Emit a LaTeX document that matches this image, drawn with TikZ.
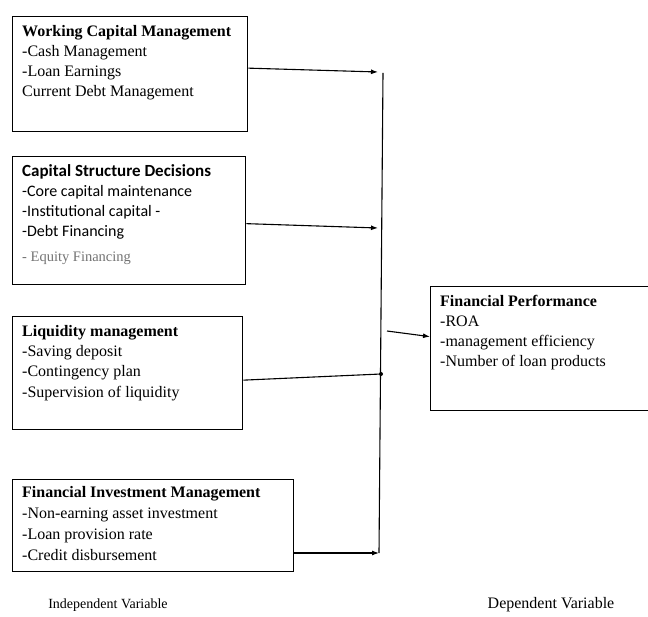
\documentclass[tikz,border=0pt]{standalone}
\usepackage{fontspec}
\setmainfont{Liberation Serif}
\newfontfamily\calib{Carlito}
\usetikzlibrary{arrows.meta}
\begin{document}
\begin{tikzpicture}[x=1pt,y=-1pt,
  box/.style={draw, line width=1.3pt, inner sep=0pt, anchor=north west},
  txt/.style={anchor=north west, inner sep=0pt, align=left, font=\fontsize{16}{20}\selectfont},
  lbl/.style={anchor=base, inner sep=0pt},
  con/.style={line width=1.1pt},
  arr/.style={con, -{Latex[length=7pt,width=5pt]}}]
\useasboundingbox (0,0) rectangle (648,617);
% boxes
\node[box, minimum width=235pt, minimum height=115pt] (b1) at (12,16) {};
\node[box, minimum width=233pt, minimum height=128pt] (b2) at (12,156) {};
\node[box, minimum width=230pt, minimum height=113pt] (b3) at (12,316) {};
\node[box, minimum width=281pt, minimum height=92pt] (b4) at (12,479) {};
\node[box, minimum width=240pt, minimum height=124pt] (fp) at (430,286) {};
% texts
\node[txt] (t1) at (22,25) {\textbf{Working Capital Management}\\-Cash Management\\-Loan Earnings\\Current Debt Management};
\node[txt, font=\calib\fontsize{16}{20}\selectfont] (t2) at (22,164) {{\fontsize{17}{20}\selectfont\textbf{Capital Structure Decisions}}\\-Core capital maintenance\\-Institutional capital -\\-Debt Financing\\[5pt]{\rmfamily\fontsize{14.5}{15}\selectfont\color{black!55}- Equity Financing}};
\node[txt] (t3) at (22,325) {\textbf{Liquidity management}\\-Saving deposit\\-Contingency plan\\[1pt]-Supervision of liquidity};
\node[txt, font=\fontsize{16}{21}\selectfont] (t4) at (22,486) {\textbf{Financial Investment Management}\\-Non-earning asset investment\\-Loan provision rate\\-Credit disbursement};
\node[txt] (t5) at (440,295) {\textbf{Financial Performance}\\-ROA\\-management efficiency\\-Number of loan products};
% labels
\node[lbl, font=\fontsize{14}{16}\selectfont] (l1) at (108,608) {Independent Variable};
\node[lbl, font=\fontsize{16}{18}\selectfont] (l2) at (551,608) {Dependent Variable};
% connectors
\coordinate (j1) at (378,72);
\coordinate (j2) at (378,228);
\coordinate (j3) at (381,374);
\coordinate (j4) at (379,553);
\coordinate (v1) at (383,73);
\coordinate (v4) at (379,553);
\coordinate (s1) at (387,331);
\draw[con] (v1) -- (v4);
\draw[arr] ([yshift=6pt]b1.east) -- (j1);
\draw[arr] ([yshift=-3pt]b2.east) -- (j2);
\draw[con] ([yshift=-7pt]b3.east) -- (j3);
\fill (j3) circle (2pt);
\draw[arr] (b4.east |- j4) -- (j4);
\draw[arr] (s1) -- ([yshift=12pt]fp.west);
\end{tikzpicture}
\end{document}
